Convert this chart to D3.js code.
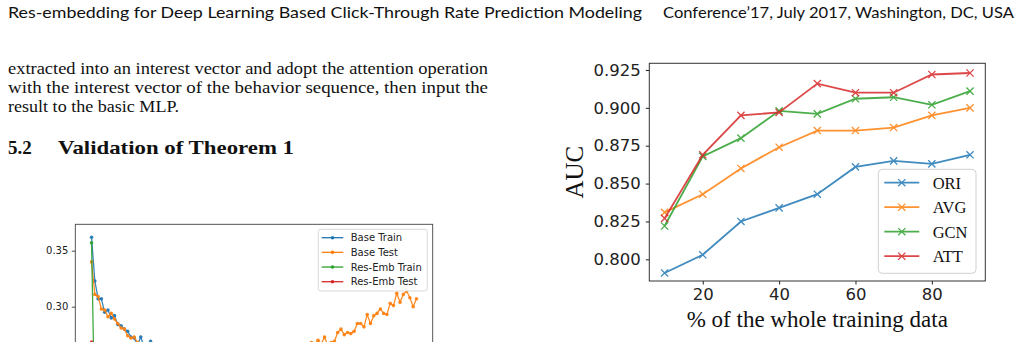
<!DOCTYPE html>
<html>
<head>
<meta charset="utf-8">
<script src="https://cdn.jsdelivr.net/npm/d3@7"></script>
<style>
  body { margin: 0; background: #fff; }
  svg { display: block; }
</style>
</head>
<body>
<div id="page"></div>
<script>
// ---- right chart: AUC vs % of training data ----
const pctTicks = [20, 40, 60, 80];
const aucTicks = [0.800, 0.825, 0.850, 0.875, 0.900, 0.925];
const pctData = [10, 20, 30, 40, 50, 60, 70, 80, 90];
const oriAUC = [0.791, 0.803, 0.825, 0.834, 0.843, 0.861, 0.865, 0.863, 0.869];
const avgAUC = [0.831, 0.843, 0.860, 0.874, 0.885, 0.885, 0.887, 0.895, 0.900];
const gcnAUC = [0.822, 0.868, 0.880, 0.898, 0.896, 0.906, 0.907, 0.902, 0.911];
const attAUC = [0.827, 0.869, 0.895, 0.897, 0.916, 0.910, 0.910, 0.922, 0.923];
const rightNames = ["ORI", "AVG", "GCN", "ATT"];

// ---- left chart: loss curves (only top part is visible) ----
const lossTicks = [0.30, 0.35];
const legendLeft = ["Base Train", "Base Test", "Res-Emb Train", "Res-Emb Test"];
const baseTrain = [[0,0.362],[1,0.323],[2,0.307],[3,0.307],[4,0.295],[5,0.297],[6,0.290],[7,0.292],
  [8,0.284],[9,0.283],[10,0.280],[11,0.278],[12,0.273],[13,0.272],[14,0.266],[15,0.273],[16,0.264],
  [17,0.262],[18,0.269],[19,0.260],[20,0.258],[25,0.250],[30,0.245]];
const baseTest = [[0,0.340],[1,0.311],[2,0.309],[3,0.298],[4,0.297],[5,0.291],[6,0.294],[7,0.289],
  [8,0.285],[9,0.281],[10,0.280],[11,0.274],[12,0.272],[13,0.273],[14,0.268],[15,0.266],[20,0.255],
  [30,0.248],[40,0.247],[50,0.250],[60,0.256],[66,0.262],[67,0.268],[68,0.266],[69,0.270],[70,0.267],
  [71,0.273],[72,0.265],[73,0.268],[74,0.269],[75,0.277],[76,0.280],[77,0.275],[78,0.277],[79,0.276],
  [80,0.278],[81,0.285],[82,0.285],[83,0.282],[84,0.293],[85,0.285],[86,0.292],[87,0.294],[88,0.298],
  [89,0.294],[90,0.293],[91,0.303],[92,0.301],[93,0.312],[94,0.304],[95,0.311],[96,0.314],[97,0.308],
  [98,0.300],[99,0.307]];
const resTrain = [[0,0.357],[1,0.200],[2,0.180]];
const resTest = [[0,0.2685],[1,0.240],[2,0.230]];

const colors = ["#1f77b4", "#ff7f0e", "#2ca02c", "#d62728"];

const W = 1023, H = 342;
const svg = d3.select("#page").append("svg").attr("width", W).attr("height", H);
svg.append("rect").attr("width", W).attr("height", H).attr("fill", "#fff");

// ---- page text ----
const sansHead = "Lato, 'Open Sans', sans-serif";
const serif = "'Liberation Serif', 'DejaVu Serif', serif";

svg.append("text").attr("x", 8).attr("y", 18).attr("font-family", sansHead).attr("font-size", 15)
  .attr("textLength", 634).attr("lengthAdjust", "spacingAndGlyphs").attr("fill", "#111")
  .text("Res-embedding for Deep Learning Based Click-Through Rate Prediction Modeling");
svg.append("text").attr("x", 663).attr("y", 18).attr("font-family", sansHead).attr("font-size", 15)
  .attr("textLength", 351).attr("lengthAdjust", "spacingAndGlyphs").attr("fill", "#111")
  .text("Conference’17, July 2017, Washington, DC, USA");

const para = [
  {t: "extracted into an interest vector and adopt the attention operation", w: 480},
  {t: "with the interest vector of the behavior sequence, then input the", w: 480},
  {t: "result to the basic MLP.", w: 171}
];
para.forEach((p, i) => {
  svg.append("text").attr("x", 8).attr("y", 74 + i * 19).attr("font-family", serif)
    .attr("font-size", 16.5).attr("textLength", p.w).attr("lengthAdjust", "spacingAndGlyphs")
    .attr("fill", "#111").text(p.t);
});
svg.append("text").attr("x", 8).attr("y", 154).attr("font-family", serif).attr("font-size", 19)
  .attr("font-weight", "bold").attr("fill", "#111").text("5.2");
svg.append("text").attr("x", 58).attr("y", 154).attr("font-family", serif).attr("font-size", 19)
  .attr("font-weight", "bold").attr("textLength", 236).attr("lengthAdjust", "spacingAndGlyphs")
  .attr("fill", "#111").text("Validation of Theorem 1");

// ---- left chart ----
const lx = d3.scaleLinear().domain([-4.95, 103.95]).range([75.3, 432.7]);
const ly = d3.scaleLinear().domain([0.25, 0.37357]).range([362.7, 224.3]);
const left = svg.append("g");
left.append("defs").append("clipPath").attr("id", "clipL")
  .append("rect").attr("x", 75.3).attr("y", 224.3).attr("width", 357.4).attr("height", 200);

const lyAxis = d3.axisLeft(ly).tickValues(lossTicks).tickFormat(d3.format(".2f"))
  .tickSize(3.5).tickPadding(3.5);
left.append("g").attr("transform", "translate(75.3,0)").call(lyAxis)
  .call(g => g.select(".domain").remove())
  .call(g => g.selectAll("text").attr("font-family", "'DejaVu Sans', sans-serif").attr("font-size", 10).attr("fill", "#222"))
  .call(g => g.selectAll("line").attr("stroke", "#222").attr("stroke-width", 0.8));

const lossSeries = [baseTrain, baseTest, resTrain, resTest];
const plotL = left.append("g").attr("clip-path", "url(#clipL)");
const lineL = d3.line().x(d => lx(d[0])).y(d => ly(d[1]));
lossSeries.forEach((s, i) => {
  plotL.append("path").datum(s).attr("d", lineL).attr("fill", "none")
    .attr("stroke", colors[i]).attr("stroke-width", 1.3).attr("stroke-opacity", 0.9);
  plotL.selectAll(null).data(s).enter().append("circle")
    .attr("cx", d => lx(d[0])).attr("cy", d => ly(d[1])).attr("r", 1.8)
    .attr("fill", colors[i]).attr("fill-opacity", 0.9);
});
left.append("rect").attr("x", 75.3).attr("y", 224.3).attr("width", 357.4).attr("height", 200)
  .attr("fill", "none").attr("stroke", "#444").attr("stroke-width", 0.9);

const legL = left.append("g");
legL.append("rect").attr("x", 318.3).attr("y", 229.3).attr("width", 109).attr("height", 61.7)
  .attr("rx", 2.5).attr("fill", "#fff").attr("fill-opacity", 0.85).attr("stroke", "#d4d4d4").attr("stroke-width", 0.9);
legendLeft.forEach((name, i) => {
  const y = 237.7 + i * 14.67;
  legL.append("line").attr("x1", 321.7).attr("x2", 343.3).attr("y1", y).attr("y2", y)
    .attr("stroke", colors[i]).attr("stroke-width", 1.3);
  legL.append("circle").attr("cx", 332.5).attr("cy", y).attr("r", 1.8).attr("fill", colors[i]);
  legL.append("text").attr("x", 350.7).attr("y", y + 3.6).attr("font-family", "'DejaVu Sans', sans-serif")
    .attr("font-size", 10).attr("fill", "#222").text(name);
});

// ---- right chart ----
const frame = {l: 649.3, r: 985.3, t: 63.3, b: 281};
const x = d3.scaleLinear().domain([6, 94]).range([frame.l, frame.r]);
const y = d3.scaleLinear().domain([0.7857, 0.9294]).range([frame.b, frame.t]);
const right = svg.append("g");

const yAxis = d3.axisLeft(y).tickValues(aucTicks).tickFormat(d3.format(".3f")).tickSize(3.5).tickPadding(5);
right.append("g").attr("transform", `translate(${frame.l},0)`).call(yAxis)
  .call(g => g.select(".domain").remove())
  .call(g => g.selectAll("text").attr("font-family", "'DejaVu Sans', sans-serif").attr("font-size", 16.5).attr("fill", "#222"))
  .call(g => g.selectAll("line").attr("stroke", "#222"));

const xAxis = d3.axisBottom(x).tickValues(pctTicks).tickFormat(d3.format("d")).tickSize(3.5).tickPadding(4);
right.append("g").attr("transform", `translate(0,${frame.b})`).call(xAxis)
  .call(g => g.select(".domain").remove())
  .call(g => g.selectAll("text").attr("font-family", "'DejaVu Sans', sans-serif").attr("font-size", 16.5).attr("fill", "#222"))
  .call(g => g.selectAll("line").attr("stroke", "#222"));

right.append("text").attr("transform", `translate(583,${(frame.t + frame.b) / 2}) rotate(-90)`)
  .attr("text-anchor", "middle").attr("font-family", serif).attr("font-size", 25).attr("fill", "#111").text("AUC");
right.append("text").attr("x", (frame.l + frame.r) / 2).attr("y", 327).attr("text-anchor", "middle")
  .attr("font-family", serif).attr("font-size", 23).attr("fill", "#111").text("% of the whole training data");

const aucSeries = [oriAUC, avgAUC, gcnAUC, attAUC];
const lineR = d3.line().x((d, i) => x(pctData[i])).y(d => y(d));
const cross = (g, cx, cy, c) => {
  const s = 3.6;
  g.append("path").attr("d", `M${cx - s},${cy - s}L${cx + s},${cy + s}M${cx - s},${cy + s}L${cx + s},${cy - s}`)
    .attr("stroke", c).attr("stroke-width", 1.3).attr("fill", "none");
};
aucSeries.forEach((s, i) => {
  const g = right.append("g").attr("opacity", 0.85);
  g.append("path").datum(s).attr("d", lineR).attr("fill", "none").attr("stroke", colors[i]).attr("stroke-width", 1.8);
  s.forEach((v, j) => cross(g, x(pctData[j]), y(v), colors[i]));
});

right.append("rect").attr("x", frame.l).attr("y", frame.t).attr("width", frame.r - frame.l)
  .attr("height", frame.b - frame.t).attr("fill", "none").attr("stroke", "#333").attr("stroke-width", 1);

const legR = right.append("g");
legR.append("rect").attr("x", 878.3).attr("y", 169.3).attr("width", 97.7).attr("height", 104)
  .attr("rx", 4).attr("fill", "#fff").attr("fill-opacity", 0.8).attr("stroke", "#d0d0d0").attr("stroke-width", 1);
rightNames.forEach((name, i) => {
  const yy = 182.7 + i * 24.5;
  const g = legR.append("g").attr("opacity", 0.85);
  g.append("line").attr("x1", 884.3).attr("x2", 919.3).attr("y1", yy).attr("y2", yy)
    .attr("stroke", colors[i]).attr("stroke-width", 1.8);
  cross(g, 901.8, yy, colors[i]);
  legR.append("text").attr("x", 932.7).attr("y", yy + 5.8).attr("font-family", serif)
    .attr("font-size", 16.5).attr("fill", "#111").text(name);
});
</script>
</body>
</html>
